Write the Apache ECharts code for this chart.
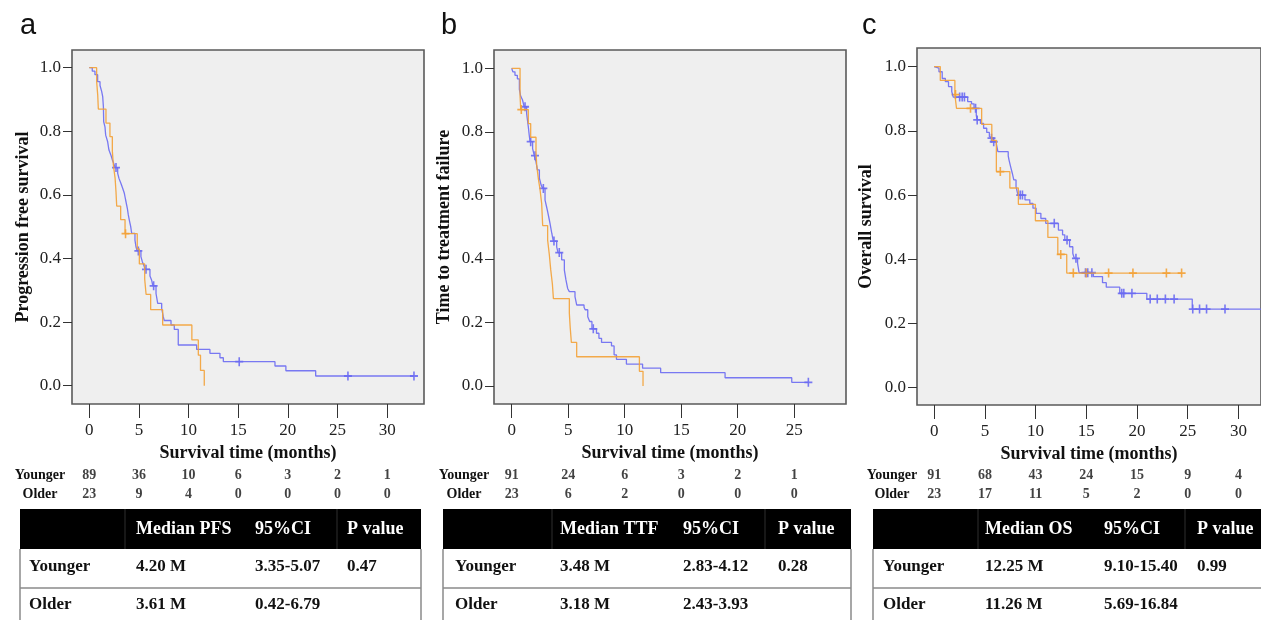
<!DOCTYPE html>
<html><head><meta charset="utf-8">
<script src="https://cdn.jsdelivr.net/npm/echarts@6/dist/echarts.min.js"></script>
<style>html,body{margin:0;padding:0;background:#fff}#c{width:1261px;height:620px}</style>
</head><body><div id="c"></div>
<script>
// ---------- texts / ticks ----------
const panelLetters = ['a', 'b', 'c'];
const yTitles = ['Progression free survival', 'Time to treatment failure', 'Overall survival'];
const xTitle = 'Survival time (months)';
const yTicks = [0, 0.2, 0.4, 0.6, 0.8, 1.0];
const xTicksA = [0, 5, 10, 15, 20, 25, 30];
const xTicksB = [0, 5, 10, 15, 20, 25];
const xTicksC = [0, 5, 10, 15, 20, 25, 30];
const groups = ['Younger', 'Older'];

// ---------- Kaplan-Meier steps [time, survival] ----------
const pfsYounger = [[0,1],[0.3,0.989],[0.57,0.978],[0.84,0.956],[1.08,0.944],[1.25,0.925],[1.35,0.909],[1.42,0.877],[1.45,0.83],[1.58,0.814],[1.65,0.788],[1.85,0.767],[1.98,0.741],[2.18,0.725],[2.32,0.71],[2.45,0.7],[2.6,0.686],[2.86,0.668],[2.99,0.652],[3.19,0.636],[3.36,0.621],[3.53,0.605],[3.66,0.584],[3.83,0.558],[3.93,0.537],[4.03,0.521],[4.17,0.5],[4.27,0.479],[4.6,0.458],[4.7,0.437],[4.82,0.424],[5.2,0.406],[5.34,0.39],[5.5,0.378],[5.62,0.366],[6.11,0.345],[6.28,0.332],[6.4,0.314],[6.72,0.29],[6.89,0.259],[7.29,0.243],[7.45,0.217],[7.55,0.205],[8.23,0.191],[8.56,0.177],[8.96,0.128],[10.81,0.114],[12.15,0.102],[13.16,0.088],[13.5,0.0755],[18.7,0.062],[19.8,0.047],[22.8,0.0305],[32.7,0.0305]];
const pfsYoungerCens = [[2.69,0.686],[4.94,0.424],[5.71,0.366],[6.48,0.314],[15.1,0.0755],[26.05,0.0305],[32.7,0.0305]];
const pfsOlder = [[0,1],[0.74,0.957],[0.85,0.913],[0.91,0.87],[1.68,0.826],[2.08,0.783],[2.32,0.739],[2.42,0.696],[2.6,0.652],[2.69,0.609],[2.76,0.565],[3.16,0.522],[3.6,0.478],[4.83,0.43],[5.04,0.383],[5.58,0.335],[5.72,0.287],[6.18,0.239],[7.39,0.191],[10.33,0.144],[10.98,0.096],[11.2,0.048],[11.58,0]];
const pfsOlderCens = [[3.65,0.478]];

const ttfYounger = [[0,1],[0.1,0.989],[0.29,0.978],[0.5,0.967],[0.68,0.934],[0.8,0.912],[0.95,0.901],[1.03,0.89],[1.1,0.879],[1.32,0.858],[1.4,0.835],[1.47,0.816],[1.55,0.79],[1.62,0.769],[1.85,0.747],[2.0,0.725],[2.15,0.706],[2.27,0.68],[2.45,0.654],[2.6,0.633],[2.75,0.622],[2.95,0.585],[3.08,0.565],[3.18,0.549],[3.3,0.528],[3.39,0.512],[3.55,0.48],[3.68,0.456],[3.98,0.438],[4.1,0.42],[4.42,0.397],[4.66,0.365],[4.8,0.334],[4.95,0.307],[5.1,0.297],[5.6,0.281],[5.75,0.255],[6.4,0.248],[6.5,0.24],[6.73,0.218],[6.9,0.203],[7.1,0.18],[7.5,0.166],[7.72,0.15],[7.95,0.137],[8.83,0.126],[9.06,0.098],[9.27,0.084],[10.15,0.069],[11.58,0.056],[13.18,0.042],[18.88,0.026],[24.78,0.0115],[26.25,0.0115]];
const ttfYoungerCens = [[1.18,0.879],[1.68,0.769],[2.06,0.725],[2.8,0.622],[3.74,0.456],[4.21,0.42],[7.22,0.18],[26.25,0.0115]];
const ttfOlder = [[0,1],[0.74,0.913],[0.8,0.87],[1.47,0.826],[1.68,0.783],[2.15,0.739],[2.21,0.696],[2.36,0.652],[2.5,0.62],[2.65,0.575],[2.74,0.505],[3.18,0.459],[3.33,0.413],[3.45,0.367],[3.6,0.321],[3.69,0.275],[5.1,0.229],[5.18,0.183],[5.28,0.137],[5.75,0.092],[11.3,0.046],[11.62,0]];
const ttfOlderCens = [[0.85,0.87]];

const osYounger = [[0,1],[0.16,0.995],[0.47,0.984],[0.79,0.963],[1.1,0.953],[1.41,0.938],[1.73,0.922],[1.88,0.905],[3.3,0.891],[3.68,0.884],[3.93,0.87],[4.15,0.849],[4.22,0.834],[4.56,0.823],[4.87,0.808],[5.18,0.795],[5.44,0.782],[5.6,0.777],[5.8,0.766],[6.13,0.759],[6.28,0.735],[7.3,0.722],[7.38,0.709],[7.54,0.688],[7.7,0.668],[7.85,0.647],[8.07,0.626],[8.26,0.6],[8.95,0.585],[9.43,0.574],[9.74,0.559],[10.05,0.543],[10.52,0.527],[11.0,0.512],[12.25,0.491],[12.66,0.476],[12.88,0.46],[13.35,0.439],[13.67,0.418],[13.82,0.403],[14.14,0.387],[14.29,0.358],[15.7,0.346],[16.6,0.327],[16.97,0.313],[18.3,0.294],[20.97,0.276],[25.45,0.245],[32.3,0.245]];
const osYoungerCens = [[2.51,0.905],[2.76,0.905],[2.98,0.905],[4.08,0.87],[4.24,0.834],[5.65,0.777],[5.87,0.766],[8.48,0.6],[8.7,0.6],[11.84,0.512],[13.1,0.46],[13.98,0.403],[14.92,0.358],[15.14,0.358],[15.55,0.358],[18.5,0.294],[18.7,0.294],[19.5,0.294],[21.3,0.276],[22.0,0.276],[22.8,0.276],[23.66,0.276],[25.5,0.245],[26.17,0.245],[26.86,0.245],[28.68,0.245]];
const osOlder = [[0,1],[0.6,0.957],[2.04,0.913],[2.2,0.87],[4.68,0.82],[5.68,0.77],[6.13,0.673],[7.46,0.622],[8.3,0.571],[9.98,0.52],[11.21,0.468],[12.19,0.415],[13.07,0.357],[24.4,0.357]];
const osOlderCens = [[2.1,0.913],[3.58,0.87],[6.52,0.673],[12.48,0.415],[13.72,0.357],[15.0,0.357],[17.2,0.357],[19.6,0.357],[22.9,0.357],[24.4,0.357]];

// ---------- numbers at risk ----------
const riskTimesA = [0, 5, 10, 15, 20, 25, 30];
const riskPfsYounger = [89, 36, 10, 6, 3, 2, 1];
const riskPfsOlder = [23, 9, 4, 0, 0, 0, 0];
const riskTimesB = [0, 5, 10, 15, 20, 25];
const riskTtfYounger = [91, 24, 6, 3, 2, 1];
const riskTtfOlder = [23, 6, 2, 0, 0, 0];
const riskTimesC = [0, 5, 10, 15, 20, 25, 30];
const riskOsYounger = [91, 68, 43, 24, 15, 9, 4];
const riskOsOlder = [23, 17, 11, 5, 2, 0, 0];

// ---------- summary tables ----------
const tableHeadA = ['', 'Median PFS', '95%CI', 'P value'];
const tableRowsA = [['Younger', '4.20 M', '3.35-5.07', '0.47'], ['Older', '3.61 M', '0.42-6.79', '']];
const tableHeadB = ['', 'Median TTF', '95%CI', 'P value'];
const tableRowsB = [['Younger', '3.48 M', '2.83-4.12', '0.28'], ['Older', '3.18 M', '2.43-3.93', '']];
const tableHeadC = ['', 'Median OS', '95%CI', 'P value'];
const tableRowsC = [['Younger', '12.25 M', '9.10-15.40', '0.99'], ['Older', '11.26 M', '5.69-16.84', '']];

// ---------- assembly ----------
const BLUE = '#6a6af2', ORANGE = '#f3a136';
const SERIF = '"Liberation Serif","Times New Roman",serif';
const SANS = '"Liberation Sans",Arial,sans-serif';
const PLUS = 'path://M4,0H6V4H10V6H6V10H4V6H0V4H4Z';

const panels = [
  {letter: panelLetters[0], yTitle: yTitles[0], young: pfsYounger, old: pfsOlder, youngC: pfsYoungerCens, oldC: pfsOlderCens, xTicks: xTicksA, rT: riskTimesA, rY: riskPfsYounger, rO: riskPfsOlder, head: tableHeadA, rows: tableRowsA},
  {letter: panelLetters[1], yTitle: yTitles[1], young: ttfYounger, old: ttfOlder, youngC: ttfYoungerCens, oldC: ttfOlderCens, xTicks: xTicksB, rT: riskTimesB, rY: riskTtfYounger, rO: riskTtfOlder, head: tableHeadB, rows: tableRowsB},
  {letter: panelLetters[2], yTitle: yTitles[2], young: osYounger, old: osOlder, youngC: osYoungerCens, oldC: osOlderCens, xTicks: xTicksC, rT: riskTimesC, rY: riskOsYounger, rO: riskOsOlder, head: tableHeadC, rows: tableRowsC}
];
const layout = [
  {left: 72, top: 50, width: 352, height: 354, xmin: -1.742, xmax: 33.71, ymin: -0.0575, ymax: 1.0557, gapY: 40, riskMargin: 32, letterX: 20,
   table: {l: 20, r: 421, cols: [29, 136, 255, 347], seps: [125, 337]}},
  {left: 494, top: 50, width: 352, height: 354, xmin: -1.566, xmax: 29.58, ymin: -0.0567, ymax: 1.0576, gapY: 41, riskMargin: 30, letterX: 441,
   table: {l: 443, r: 851, cols: [455, 560, 683, 778], seps: [552, 765]}},
  {left: 917, top: 48, width: 360, height: 357, xmin: -1.697, xmax: 32.23, ymin: -0.0539, ymax: 1.058, gapY: 42, riskMargin: 25, letterX: 862,
   table: {l: 873, r: 1280, cols: [883, 985, 1104, 1197], seps: [978, 1185]}}
];

const grid = [], xAxis = [], yAxis = [], series = [], graphic = [];
panels.forEach((p, i) => {
  const L = layout[i];
  // main plot grid
  grid.push({left: L.left, top: L.top, width: L.width, height: L.height, show: true,
    backgroundColor: '#efefef', borderColor: '#5a5a5a', borderWidth: 1.6});
  xAxis.push({type: 'value', gridIndex: 2 * i, min: L.xmin, max: L.xmax,
    name: xTitle, nameLocation: 'middle', nameGap: 40,
    nameTextStyle: {fontFamily: SERIF, fontWeight: 'bold', fontSize: 18, color: '#111'},
    axisLine: {show: false, onZero: false}, splitLine: {show: false},
    axisTick: {show: true, length: 14, customValues: p.xTicks, lineStyle: {color: '#333', width: 1}},
    axisLabel: {customValues: p.xTicks, margin: 18, fontFamily: SERIF, fontSize: 17, color: '#222'}});
  yAxis.push({type: 'value', gridIndex: 2 * i, min: L.ymin, max: L.ymax,
    name: p.yTitle, nameLocation: 'middle', nameGap: L.gapY,
    nameTextStyle: {fontFamily: SERIF, fontWeight: 'bold', fontSize: 18, color: '#111'},
    axisLine: {show: false, onZero: false}, splitLine: {show: false},
    axisTick: {show: true, length: 9, customValues: yTicks, lineStyle: {color: '#333', width: 1}},
    axisLabel: {customValues: yTicks, margin: 11, fontFamily: SERIF, fontSize: 17, color: '#222',
      formatter: v => v.toFixed(1)}});
  // numbers-at-risk grid (same time scale)
  grid.push({left: L.left, top: 465.5, width: L.width, height: 38, show: false});
  xAxis.push({type: 'value', gridIndex: 2 * i + 1, min: L.xmin, max: L.xmax, show: false});
  yAxis.push({type: 'category', gridIndex: 2 * i + 1, data: groups, inverse: true,
    axisLine: {show: false}, axisTick: {show: false}, splitLine: {show: false},
    axisLabel: {align: 'center', margin: L.riskMargin, fontFamily: SERIF, fontWeight: 'bold', fontSize: 14, color: '#111'}});

  const lineS = (data, color) => ({type: 'line', xAxisIndex: 2 * i, yAxisIndex: 2 * i, data, step: 'end',
    showSymbol: false, symbol: 'none', lineStyle: {color, width: 1.3, opacity: 0.9}, silent: true, animation: false});
  const censS = (data, color) => ({type: 'scatter', xAxisIndex: 2 * i, yAxisIndex: 2 * i, data,
    symbol: PLUS, symbolSize: [8, 9], itemStyle: {color, opacity: 0.9}, silent: true, animation: false});
  series.push(lineS(p.young, BLUE), lineS(p.old, ORANGE), censS(p.youngC, BLUE), censS(p.oldC, ORANGE));
  const riskData = [];
  p.rT.forEach((t, k) => { riskData.push([t, groups[0], p.rY[k]]); riskData.push([t, groups[1], p.rO[k]]); });
  series.push({type: 'scatter', xAxisIndex: 2 * i + 1, yAxisIndex: 2 * i + 1, data: riskData,
    symbolSize: 1, itemStyle: {color: 'rgba(0,0,0,0)'}, silent: true, animation: false,
    label: {show: true, position: 'inside', formatter: q => String(q.value[2]),
      fontFamily: SERIF, fontWeight: 'bold', fontSize: 14, color: '#111'}});

  // panel letter
  graphic.push({type: 'text', left: L.letterX, top: 11, style: {text: p.letter, font: '29px ' + SANS, fill: '#111'}});
  // summary table
  const T = L.table, hTop = 509, hBot = 549, rowLine = 588;
  graphic.push({type: 'rect', shape: {x: T.l, y: hTop, width: T.r - T.l, height: hBot - hTop}, style: {fill: '#000'}});
  T.seps.forEach(sx => graphic.push({type: 'line', shape: {x1: sx, y1: hTop, x2: sx, y2: hBot}, style: {stroke: '#2e2e2e', lineWidth: 1}}));
  [T.l, T.r].forEach(sx => graphic.push({type: 'line', shape: {x1: sx, y1: hBot, x2: sx, y2: 620}, style: {stroke: '#8a8a8a', lineWidth: 1.5}}));
  graphic.push({type: 'line', shape: {x1: T.l, y1: rowLine, x2: T.r, y2: rowLine}, style: {stroke: '#8a8a8a', lineWidth: 1.5}});
  p.head.forEach((h, c) => { if (h) graphic.push({type: 'text', x: T.cols[c], y: 529,
    style: {text: h, font: 'bold 18px ' + SERIF, fill: '#fff', verticalAlign: 'middle'}}); });
  p.rows.forEach((row, r) => row.forEach((cell, c) => { if (cell) graphic.push({type: 'text', x: T.cols[c], y: r === 0 ? 567 : 605,
    style: {text: cell, font: 'bold 17px ' + SERIF, fill: '#111', verticalAlign: 'middle'}}); }));
});

const chart = echarts.init(document.getElementById('c'), null, {renderer: 'canvas'});
chart.setOption({animation: false, backgroundColor: '#fff', grid, xAxis, yAxis, series, graphic});
</script></body></html>
